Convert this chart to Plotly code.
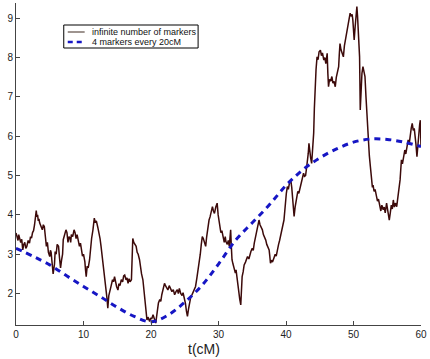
import plotly.graph_objects as go

# ---------------- data ----------------
t_cM = [
    0.0, 0.15, 0.3, 0.4, 0.5, 0.7, 0.85, 1.0, 1.15, 1.3, 1.45, 1.6, 1.8, 2.0, 2.15, 2.3, 2.45, 2.6, 2.75, 2.9,
    3.0, 3.1, 3.2, 3.3, 3.4, 3.5, 3.7, 3.9, 4.05, 4.2, 4.35, 4.5, 4.65, 4.8, 5.0, 5.1, 5.2, 5.35, 5.5, 5.6,
    5.7, 5.8, 5.95, 6.1, 6.3, 6.45, 6.6, 6.75, 6.9, 7.0, 7.2, 7.4, 7.55, 7.7, 7.85, 8.0, 8.1, 8.2, 8.4, 8.6,
    8.75, 8.9, 9.05, 9.2, 9.4, 9.55, 9.7, 9.85, 10.0, 10.2, 10.3, 10.4, 10.55, 10.7, 10.9, 11.05, 11.2, 11.4, 11.5, 11.6,
    11.75, 11.9, 12.1, 12.3, 12.45, 12.6, 12.75, 12.9, 13.1, 13.25, 13.4, 13.5, 13.6, 13.75, 13.9, 14.1, 14.3, 14.45, 14.6, 14.75,
    14.9, 15.1, 15.25, 15.4, 15.6, 15.8, 15.95, 16.1, 16.3, 16.45, 16.6, 16.75, 16.9, 17.1, 17.2, 17.3, 17.45, 17.6, 17.8, 17.95,
    18.1, 18.3, 18.45, 18.6, 18.8, 18.95, 19.1, 19.25, 19.4, 19.55, 19.7, 19.8, 19.95, 20.1, 20.3, 20.45, 20.6, 20.7, 20.85, 21.0,
    21.1, 21.3, 21.45, 21.6, 21.8, 22.0, 22.15, 22.3, 22.5, 22.7, 22.9, 23.1, 23.3, 23.5, 23.7, 23.9, 24.05, 24.2, 24.4, 24.6,
    24.75, 24.9, 25.1, 25.25, 25.4, 25.55, 25.7, 25.9, 26.1, 26.3, 26.45, 26.6, 26.8, 26.95, 27.1, 27.3, 27.45, 27.6, 27.75, 27.9,
    28.1, 28.25, 28.4, 28.6, 28.75, 28.9, 29.1, 29.25, 29.4, 29.6, 29.8, 29.95, 30.1, 30.2, 30.35, 30.5, 30.7, 30.85, 31.0, 31.1,
    31.3, 31.45, 31.6, 31.7, 31.8, 31.9, 32.0, 32.15, 32.3, 32.5, 32.6, 32.75, 32.9, 33.0, 33.15, 33.3, 33.4, 33.5, 33.65, 33.8,
    34.0, 34.15, 34.3, 34.5, 34.65, 34.8, 35.0, 35.15, 35.3, 35.5, 35.6, 35.7, 35.85, 36.0, 36.15, 36.3, 36.5, 36.65, 36.8, 37.0,
    37.15, 37.3, 37.5, 37.6, 37.7, 37.85, 38.0, 38.2, 38.4, 38.55, 38.7, 38.9, 39.05, 39.2, 39.4, 39.55, 39.7, 39.8, 39.9, 40.05,
    40.2, 40.35, 40.5, 40.7, 40.85, 41.0, 41.1, 41.2, 41.35, 41.5, 41.6, 41.75, 41.9, 42.1, 42.25, 42.4, 42.6, 42.75, 42.9, 43.05,
    43.2, 43.3, 43.4, 43.5, 43.65, 43.8, 43.95, 44.1, 44.2, 44.3, 44.45, 44.6, 44.75, 44.9, 45.1, 45.25, 45.4, 45.6, 45.75, 45.9,
    46.1, 46.2, 46.3, 46.45, 46.6, 46.8, 46.95, 47.1, 47.3, 47.45, 47.6, 47.8, 47.9, 48.0, 48.15, 48.3, 48.5, 48.65, 48.8, 49.0,
    49.15, 49.3, 49.5, 49.65, 49.8, 49.9, 50.0, 50.1, 50.25, 50.4, 50.5, 50.6, 50.75, 50.9, 51.0, 51.1, 51.25, 51.4, 51.55, 51.7,
    51.85, 52.0, 52.1, 52.2, 52.35, 52.5, 52.6, 52.7, 52.8, 52.9, 53.05, 53.2, 53.4, 53.55, 53.7, 53.9, 54.05, 54.2, 54.4, 54.55,
    54.7, 54.9, 55.05, 55.15, 55.3, 55.45, 55.6, 55.75, 55.9, 56.05, 56.2, 56.4, 56.5, 56.6, 56.75, 56.9, 57.0, 57.1, 57.25, 57.4,
    57.6, 57.75, 57.9, 58.1, 58.25, 58.4, 58.55, 58.7, 58.85, 59.0, 59.1, 59.25, 59.4, 59.55, 59.7, 59.8, 59.9, 60.0,
]

lod_infinite = [
    3.54, 3.40, 3.35, 3.50, 3.45, 3.30, 3.38, 3.11, 3.25, 3.30, 3.15, 3.20, 3.35, 3.28, 3.45, 3.41, 3.55, 3.60, 3.75, 3.90,
    4.11, 3.95, 4.00, 3.85, 3.90, 3.80, 3.70, 3.62, 3.75, 3.70, 3.45, 3.20, 3.30, 3.05, 2.94, 3.10, 3.05, 2.80, 2.50, 2.62,
    2.75, 3.07, 3.00, 3.25, 3.20, 2.90, 2.65, 2.85, 3.00, 3.37, 3.50, 3.62, 3.55, 3.30, 3.45, 3.41, 3.30, 3.50, 3.45, 3.62,
    3.55, 3.40, 3.50, 3.32, 3.20, 3.28, 3.11, 2.95, 3.00, 2.81, 2.60, 2.43, 2.70, 2.65, 2.86, 3.20, 3.40, 3.62, 3.75, 3.92,
    3.80, 3.85, 3.70, 3.55, 3.40, 3.20, 3.00, 2.80, 2.53, 2.25, 2.00, 1.84, 1.63, 1.95, 2.09, 2.20, 2.35, 2.30, 2.43, 2.25,
    2.18, 2.09, 2.25, 2.20, 2.35, 2.30, 2.45, 2.47, 2.35, 2.40, 2.26, 2.38, 2.30, 2.35, 2.90, 3.40, 3.30, 3.25, 3.20, 3.05,
    3.00, 2.86, 2.65, 2.50, 2.35, 2.05, 1.76, 1.50, 1.33, 1.40, 1.30, 1.29, 1.38, 1.35, 1.46, 1.35, 1.30, 1.25, 1.45, 1.60,
    1.76, 1.85, 1.80, 1.97, 2.10, 2.26, 2.20, 2.15, 2.09, 2.20, 2.13, 2.05, 2.10, 1.97, 2.05, 2.10, 2.00, 2.13, 2.00, 1.95,
    2.02, 1.92, 1.75, 1.55, 1.42, 1.60, 1.75, 1.92, 1.98, 2.05, 2.10, 2.18, 2.40, 2.55, 2.69, 3.00, 3.25, 3.45, 3.40, 3.30,
    3.20, 3.45, 3.65, 3.87, 3.95, 4.10, 4.21, 4.10, 4.04, 4.20, 4.30, 4.00, 3.85, 3.70, 3.55, 3.60, 3.41, 3.30, 3.45, 3.32,
    3.25, 3.35, 3.20, 3.40, 3.62, 3.20, 2.86, 2.75, 2.65, 2.52, 2.60, 2.35, 2.18, 2.00, 1.85, 1.71, 2.10, 2.43, 2.55, 2.73,
    2.80, 2.90, 2.94, 2.88, 3.02, 3.07, 3.15, 3.10, 3.28, 3.45, 3.60, 3.70, 3.80, 3.87, 3.75, 3.70, 3.62, 3.50, 3.45, 3.36,
    3.25, 3.20, 3.11, 2.95, 2.77, 2.85, 2.80, 2.90, 3.00, 2.95, 3.11, 3.25, 3.35, 3.45, 3.60, 3.75, 3.87, 4.10, 4.38, 4.55,
    4.72, 4.65, 4.80, 4.89, 4.70, 4.40, 4.10, 3.96, 4.20, 4.35, 4.47, 4.60, 4.55, 4.72, 4.80, 4.95, 5.06, 4.98, 5.00, 5.20,
    5.40, 5.57, 5.82, 5.60, 5.45, 5.31, 5.60, 6.08, 6.70, 7.35, 7.70, 8.02, 7.95, 8.15, 8.19, 8.05, 8.12, 7.94, 8.00, 7.85,
    8.11, 7.60, 7.26, 7.45, 7.40, 7.52, 7.35, 7.40, 7.26, 7.50, 7.60, 7.77, 8.10, 8.36, 8.20, 8.10, 8.02, 8.30, 8.45, 8.62,
    8.80, 9.00, 9.13, 9.05, 9.10, 8.96, 8.70, 8.45, 8.80, 9.10, 9.30, 9.05, 8.60, 8.02, 6.67, 7.30, 7.60, 7.77, 7.60, 7.52,
    7.00, 6.50, 6.20, 5.91, 5.50, 5.23, 5.00, 4.89, 4.70, 4.76, 4.60, 4.65, 4.47, 4.35, 4.40, 4.21, 4.10, 4.25, 4.13, 4.20,
    4.05, 4.30, 4.10, 3.95, 3.87, 4.05, 4.25, 4.15, 4.38, 4.20, 4.30, 4.21, 4.35, 4.47, 4.60, 4.89, 5.15, 5.40, 5.30, 5.50,
    5.65, 5.55, 5.75, 5.91, 5.80, 6.05, 6.20, 6.33, 6.15, 6.20, 6.08, 5.80, 5.48, 5.85, 6.16, 6.30, 6.41, 5.74,
]

t_markers = [0, 2.5, 5, 7.5, 10, 12.5, 15, 17.5, 20, 22.5, 25, 27.5, 30,
             32.5, 35, 37.5, 40, 42.5, 45, 47.5, 50, 52.5, 55, 57.5, 60]
lod_markers = [3.15, 2.95, 2.73, 2.45, 2.18, 1.92, 1.65, 1.42, 1.28, 1.45, 1.78, 2.2, 2.75,
               3.35, 3.8, 4.25, 4.75, 5.15, 5.45, 5.68, 5.85, 5.93, 5.92, 5.85, 5.74]

series_names = ["infinite number of markers", "4 markers every 20cM"]
x_ticks = [0, 10, 20, 30, 40, 50, 60]
y_ticks = [2, 3, 4, 5, 6, 7, 8, 9]
x_label = "t(cM)"

# ---------------- figure ----------------
RED = "#3c0a0a"
BLUE = "#1616c4"
FONT = "Liberation Sans, Arial, sans-serif"

L, R, T, B = 16, 423, 3, 325  # plot area in pixels

fig = go.Figure()
fig.add_trace(go.Scatter(x=t_cM, y=lod_infinite, mode="lines", name=series_names[0],
                         line=dict(color=RED, width=1.5), showlegend=False))
fig.add_trace(go.Scatter(x=t_markers, y=lod_markers, mode="lines", name=series_names[1],
                         line=dict(color=BLUE, width=3, dash="6px,5px", shape="spline"),
                         showlegend=False))

# legend drawn in paper coordinates
def px(x):
    return (x - L) / float(R - L)

def py(y):
    return (B - y) / float(B - T)

shapes = [
    dict(type="rect", xref="paper", yref="paper", x0=px(64), x1=px(199), y0=py(48), y1=py(25),
         line=dict(color="black", width=1), fillcolor="white", layer="above"),
    dict(type="line", xref="paper", yref="paper", x0=px(68), x1=px(85), y0=py(32), y1=py(32),
         line=dict(color="#6a5a52", width=1.3), layer="above"),
    dict(type="line", xref="paper", yref="paper", x0=px(68), x1=px(85), y0=py(42), y1=py(42),
         line=dict(color=BLUE, width=2.5, dash="5px,4px"), layer="above"),
]
annotations = [
    dict(text=series_names[0], xref="paper", yref="paper", x=px(90), y=py(32), xanchor="left",
         yanchor="middle", showarrow=False, font=dict(size=9, color="#111", family=FONT)),
    dict(text=series_names[1], xref="paper", yref="paper", x=px(90), y=py(42), xanchor="left",
         yanchor="middle", showarrow=False, font=dict(size=9, color="#111", family=FONT)),
    dict(text=x_label, xref="paper", yref="paper", x=px(205), y=py(349), xanchor="center",
         yanchor="middle", showarrow=False, font=dict(size=14, color="#222", family=FONT)),
]

fig.update_layout(
    width=430, height=359,
    margin=dict(l=L, r=430 - R, t=T, b=359 - B),
    paper_bgcolor="white", plot_bgcolor="white",
    font=dict(family=FONT, size=10, color="#222"),
    shapes=shapes, annotations=annotations,
    showlegend=False,
)
fig.update_xaxes(range=[0, 60], tickvals=x_ticks, ticks="inside", ticklen=4, tickcolor="#444",
                 showline=True, linecolor="#444", linewidth=1, showgrid=False, zeroline=False,
                 tickfont=dict(size=10, color="#222"))
fig.update_yaxes(range=[1.2, 9.39], tickvals=y_ticks, ticks="inside", ticklen=4, tickcolor="#444",
                 showline=True, linecolor="#444", linewidth=1, showgrid=False, zeroline=False,
                 tickfont=dict(size=10, color="#222"))

fig.write_html("out.html",
               config={"displayModeBar": False},
               post_script="document.body.style.margin='0';document.body.style.overflow='hidden';")
